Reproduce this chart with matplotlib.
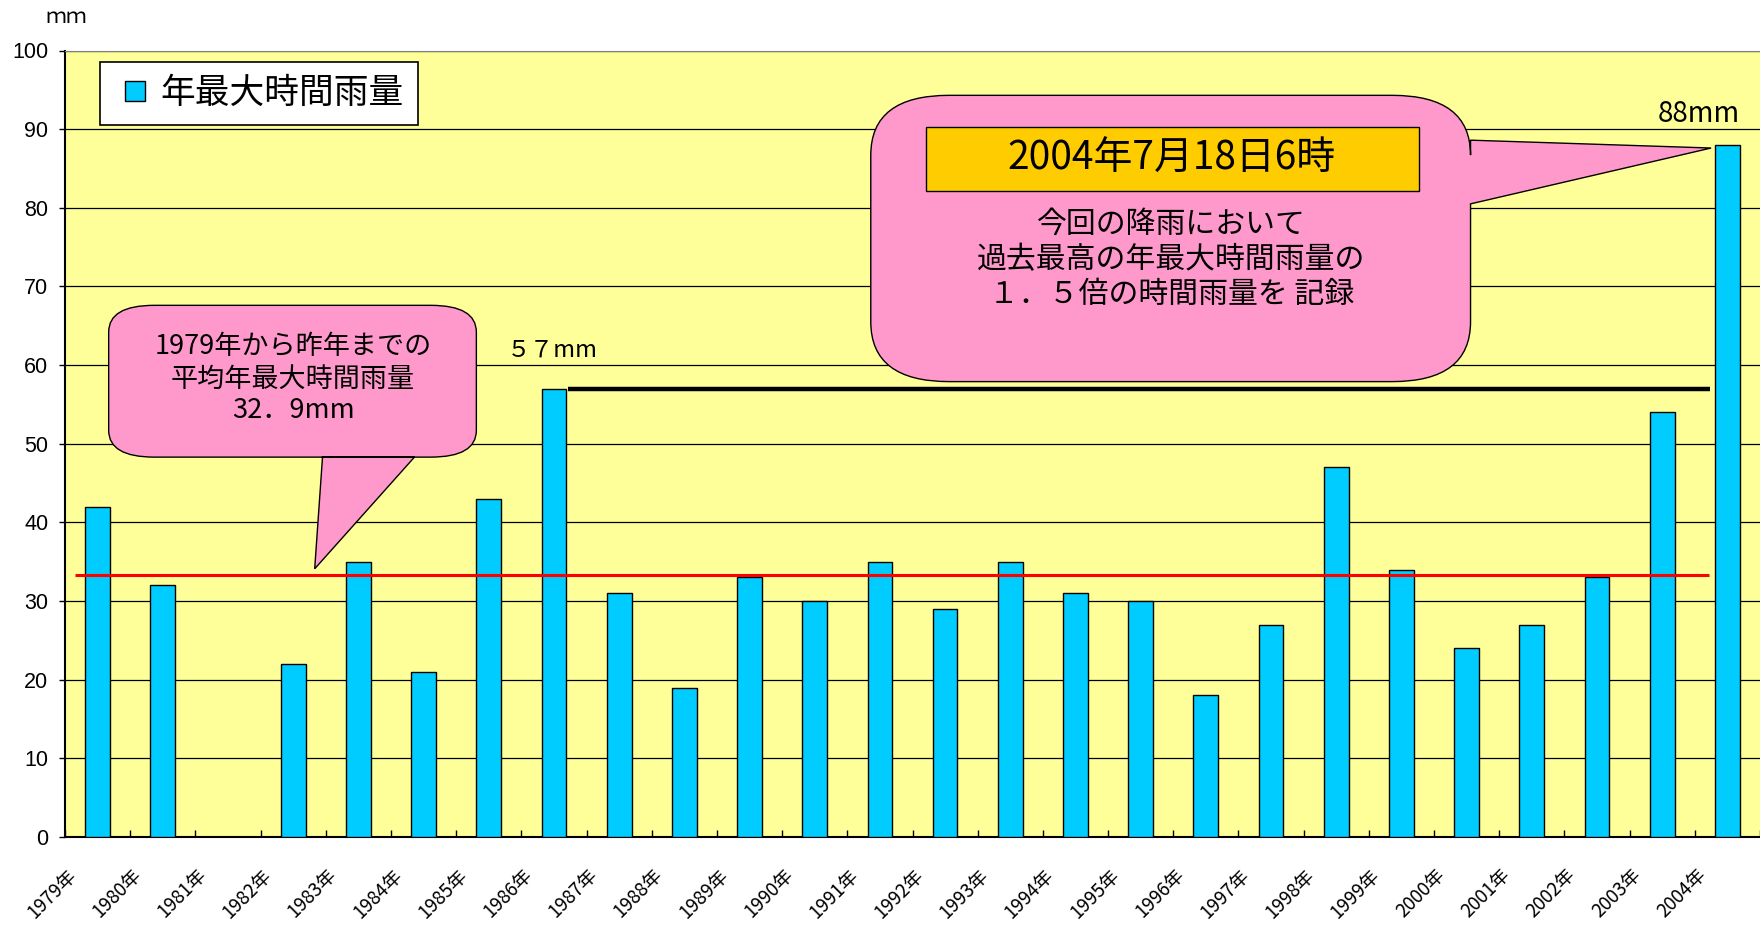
import numpy as np
import matplotlib
matplotlib.use('Agg')
import matplotlib.pyplot as plt
from matplotlib.path import Path
from matplotlib.patches import PathPatch, Rectangle
from matplotlib.lines import Line2D
from matplotlib.transforms import ScaledTranslation

plt.rcParams['font.family'] = ['Noto Sans CJK JP', 'DejaVu Sans']

# data (1981 has no value)
years = ['1979年', '1980年', '1981年', '1982年', '1983年', '1984年', '1985年',
         '1986年', '1987年', '1988年', '1989年', '1990年', '1991年', '1992年',
         '1993年', '1994年', '1995年', '1996年', '1997年', '1998年', '1999年',
         '2000年', '2001年', '2002年', '2003年', '2004年']
rain = [42, 32, np.nan, 22, 35, 21, 43, 57, 31, 19, 33, 30, 35, 29, 35, 31,
        30, 18, 27, 47, 34, 24, 27, 33, 54, 88]
avg_line = 33.3          # red line as drawn in the chart
prev_max = 57
prev_max_year = '1986年'
record_year = '2004年'
yticks = list(range(0, 101, 10))

BAR = '#00CCFF'
PINK = '#FF99CC'
BG = '#FFFF99'


def callout(ax, x0, x1, y0, y1, rx, ry, bottom_tail=None, right_tail=None):
    # rounded box with a pointer, drawn as one outline
    c = Path.CURVE3
    L = Path.LINETO
    verts = [(x0 + rx, y0)]
    codes = [Path.MOVETO]
    for p in (bottom_tail or []):
        verts.append(p)
        codes.append(L)
    verts += [(x1 - rx, y0), (x1, y0), (x1, y0 + ry)]
    codes += [L, c, c]
    for p in (right_tail or []):
        verts.append(p)
        codes.append(L)
    verts += [(x1, y1 - ry), (x1, y1), (x1 - rx, y1)]
    codes += [L, c, c]
    verts += [(x0 + rx, y1), (x0, y1), (x0, y1 - ry)]
    codes += [L, c, c]
    verts += [(x0, y0 + ry), (x0, y0), (x0 + rx, y0)]
    codes += [L, c, c]
    verts.append((x0 + rx, y0))
    codes.append(Path.CLOSEPOLY)
    ax.add_patch(PathPatch(Path(verts, codes), facecolor=PINK,
                           edgecolor='black', lw=1.0, zorder=5))


fig = plt.figure(figsize=(17.6, 9.26), dpi=100)
ax = fig.add_axes([65 / 1760, 89 / 926, 1695 / 1760, 786.5 / 926])
ax.set_facecolor(BG)

x = np.arange(len(years))
vals = np.array(rain, dtype=float)
ok = ~np.isnan(vals)
bw = 0.38
ax.bar(x[ok], vals[ok], width=bw, color=BAR, edgecolor='black', lw=1.0,
       zorder=3)

ax.set_xlim(-0.5, -0.5 + 1695 / 65.3)
ax.set_ylim(0, 100)
ax.set_yticks(yticks)
ax.yaxis.grid(True, color='black', lw=0.9)
ax.set_axisbelow(True)

ax.set_xticks(x)
ax.set_xticklabels(years, rotation=45, ha='right', va='top', fontsize=13.5)
ax.set_xticks(np.arange(-0.5, len(years), 1.0), minor=True)
ax.tick_params(axis='x', which='major', length=0, pad=20)
ax.tick_params(axis='x', which='minor', direction='in', length=5, width=1)
off = ScaledTranslation(-0.17, 0, fig.dpi_scale_trans)
for lab in ax.get_xticklabels():
    lab.set_transform(lab.get_transform() + off)
ax.tick_params(axis='y', length=4, width=1, pad=8)
for lab in ax.get_yticklabels():
    lab.set_fontfamily('Liberation Sans')
    lab.set_fontsize(15.5)

for s in ['left', 'bottom']:
    ax.spines[s].set_linewidth(1.5)
ax.spines['top'].set_color('#808080')
ax.spines['right'].set_visible(False)

i_prev = years.index(prev_max_year)
i_rec = years.index(record_year)
ax.hlines(avg_line, -0.35, i_rec - 0.28, color='#FF0000', lw=2.2, zorder=4)
ax.hlines(prev_max, i_prev + bw / 2 + 0.03, i_rec - 0.26, color='black',
          lw=3.2, zorder=4)

ax.text(i_prev - 0.03, prev_max + 4.9, '５７mm', ha='center', va='center',
        fontsize=17)
ax.text(i_rec - 0.44, vals[i_rec] + 3.9, '88mm', ha='center', va='center',
        fontsize=20)

# left callout
callout(ax, 0.17, 5.81, 48.3, 67.6, 0.7, 3.4,
        bottom_tail=[(4.86, 48.3), (3.33, 34.1), (3.45, 48.3)])
ax.text(3.0, 62.4, '1979年から昨年までの', ha='center', va='center',
        fontsize=19.5, zorder=6)
ax.text(3.0, 58.2, '平均年最大時間雨量', ha='center', va='center',
        fontsize=19.5, zorder=6)
ax.text(3.0, 54.2, '32．9mm', ha='center', va='center', fontsize=19.5,
        zorder=6)

# right callout
callout(ax, 11.86, 21.06, 57.9, 94.3, 1.2, 7.6,
        right_tail=[(21.06, 80.5), (24.75, 87.6), (21.06, 88.6)])
ax.add_patch(Rectangle((12.70, 82.1), 7.57, 8.2, facecolor='#FFCC00',
                       edgecolor='black', lw=1.0, zorder=6))
ax.text(16.48, 86.2, '2004年7月18日6時', ha='center', va='center',
        fontsize=28, zorder=7)
ax.text(16.47, 77.9, '今回の降雨において', ha='center', va='center',
        fontsize=21.5, zorder=7)
ax.text(16.47, 73.4, '過去最高の年最大時間雨量の', ha='center', va='center',
        fontsize=21.5, zorder=7)
ax.text(16.47, 69.0, '１．５倍の時間雨量を 記録', ha='center', va='center',
        fontsize=21.5, zorder=7)

handles = [Line2D([], [], ls='none', marker='s', markersize=14,
                  markerfacecolor=BAR, markeredgecolor='black', mew=1.0)]
leg = ax.legend(handles, ['年最大時間雨量'], loc='upper left',
                bbox_to_anchor=(100 / 1760, 1 - 62 / 926),
                bbox_transform=fig.transFigure, fontsize=25, fancybox=False,
                framealpha=1, edgecolor='black', handlelength=1.2,
                handletextpad=0.15, borderpad=0.4, borderaxespad=0)
leg.get_frame().set_linewidth(1.2)
leg.set_zorder(8)

fig.text(66 / 1760, 1 - 17 / 926, 'ｍｍ', ha='center', va='center',
         fontsize=15)

fig.savefig('out.png', dpi=100, facecolor='white')
